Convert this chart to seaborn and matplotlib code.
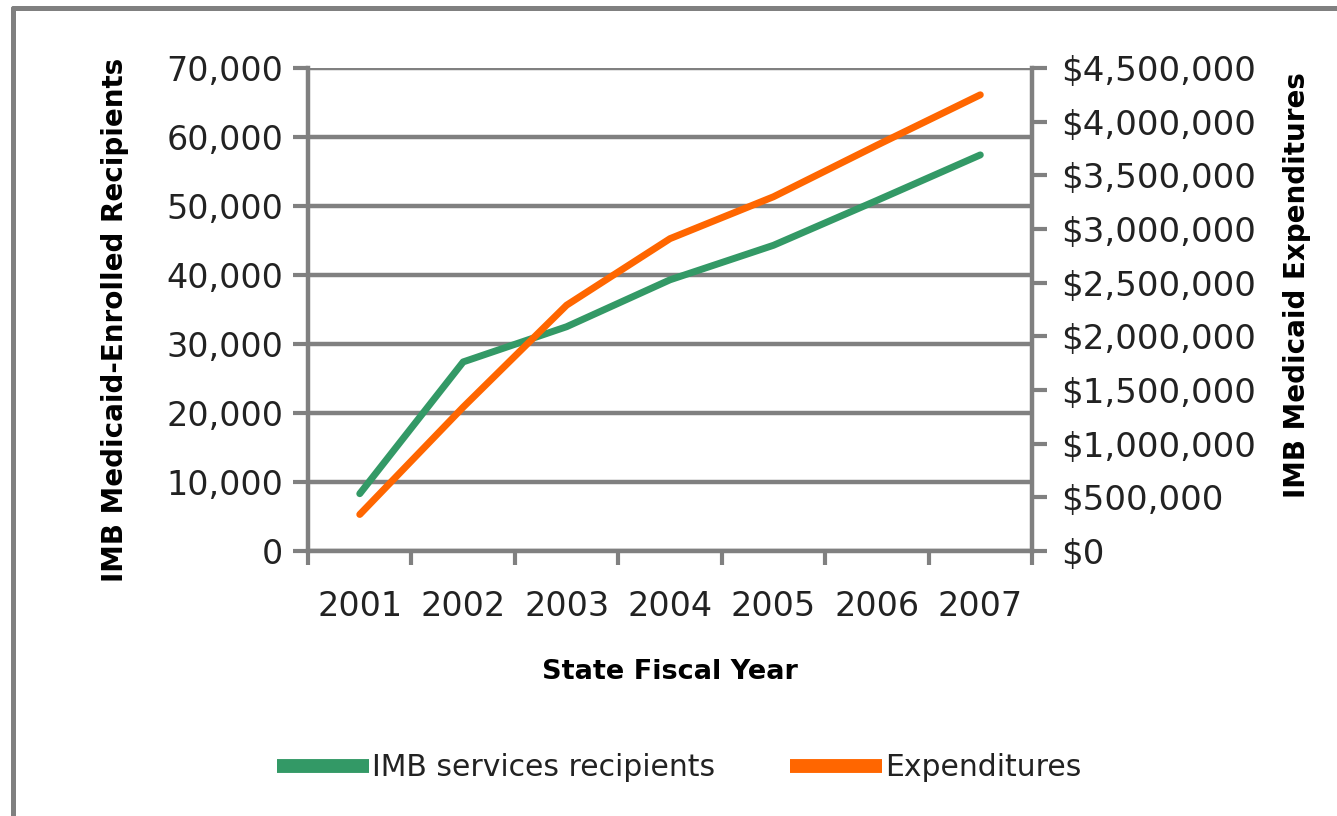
import numpy as np
import pandas as pd
import seaborn as sns
import matplotlib.pyplot as plt
from matplotlib.lines import Line2D

years = ['2001', '2002', '2003', '2004', '2005', '2006', '2007']
recipients = [8300, 27400, 32500, 39300, 44300, 50800, 57400]
expenditures = [340000, 1340000, 2290000, 2910000, 3300000, 3780000, 4250000]
left_ticks = [0, 10000, 20000, 30000, 40000, 50000, 60000, 70000]
right_ticks = [0, 500000, 1000000, 1500000, 2000000, 2500000, 3000000, 3500000, 4000000, 4500000]

df = pd.DataFrame({'pos': np.arange(len(years)), 'recipients': recipients, 'expenditures': expenditures})

green = '#339966'
orange = '#ff6600'
gray = '#808080'
txt = '#222222'

sns.set_theme(style='white')
plt.rcParams['font.family'] = ['DejaVu Sans']

fig = plt.figure(figsize=(13.37, 8.16), dpi=100)
ax = fig.add_axes([0.2304, 0.3248, 0.5415, 0.5919])
ax2 = ax.twinx()

sns.lineplot(data=df, x='pos', y='recipients', ax=ax, color=green, lw=5, legend=False)
sns.lineplot(data=df, x='pos', y='expenditures', ax=ax2, color=orange, lw=5, legend=False)

# left axis
ax.set_ylim(0, 70000)
ax.set_yticks(left_ticks)
ax.set_yticklabels(['{:,}'.format(v) for v in left_ticks])
ax.set_xlim(-0.5, 6.5)
ax.set_xticks(df['pos'])
ax.set_xticklabels(years)
ax.set_xticks(np.arange(-0.5, 7, 1), minor=True)
ax.tick_params(axis='x', which='major', length=0, pad=28, labelsize=24, labelcolor=txt)
ax.tick_params(axis='x', which='minor', length=10, width=3, color=gray, direction='out', bottom=True)
ax.tick_params(axis='y', length=11, width=3, color=gray, direction='out', pad=7, labelsize=24,
               labelcolor=txt, left=True)
ax.set_axisbelow(True)
ax.yaxis.grid(True, color=gray, lw=3.2)
ax.xaxis.grid(False)

# right axis
ax2.set_ylim(0, 4500000)
ax2.set_yticks(right_ticks)
ax2.set_yticklabels(['${:,}'.format(v) for v in right_ticks])
ax2.tick_params(axis='y', length=11, width=3, color=gray, direction='out', pad=10, labelsize=24.5,
                labelcolor=txt, right=True)
ax2.grid(False)

for a in (ax, ax2):
    for s in a.spines.values():
        s.set_visible(False)
ax.spines['left'].set_visible(True)
ax.spines['bottom'].set_visible(True)
ax2.spines['right'].set_visible(True)
for a, side in ((ax, 'left'), (ax, 'bottom'), (ax2, 'right')):
    a.spines[side].set_color(gray)
    a.spines[side].set_linewidth(3.2)

ax.set_xlabel('State Fiscal Year', fontsize=19.5, fontweight='bold', color='black')
ax.xaxis.set_label_coords(0.5, -0.2505)
ax.xaxis.label.set_va('center')
ax.set_ylabel('IMB Medicaid-Enrolled Recipients', fontsize=20, fontweight='bold', color='black')
ax.yaxis.set_label_coords(-0.2666, 0.478)
ax.yaxis.label.set_va('center')
ax2.set_ylabel('IMB Medicaid Expenditures', fontsize=20, fontweight='bold', color='black', rotation=90)
ax2.yaxis.set_label_coords(1.366, 0.551)
ax2.yaxis.label.set_va('center')

handles = [Line2D([], [], color=green, lw=10, solid_capstyle='butt'),
           Line2D([], [], color=orange, lw=10, solid_capstyle='butt')]
fig.legend(handles, ['IMB services recipients', 'Expenditures'], loc='center',
           bbox_to_anchor=(0.508, 0.059), ncol=2, frameon=False, fontsize=21.5,
           handlelength=3.1, handletextpad=0.1, columnspacing=2.5, labelcolor=txt)

# outer frame (cut off on right and bottom)
fig.add_artist(Line2D([12.5 / 1337, 12.5 / 1337], [-0.05, 1 - 7.5 / 816], color=gray, lw=3.6,
                      transform=fig.transFigure))
fig.add_artist(Line2D([12.5 / 1337, 1.05], [1 - 7.5 / 816, 1 - 7.5 / 816], color=gray, lw=3.6,
                      transform=fig.transFigure))

fig.savefig('out.png', dpi=100)
